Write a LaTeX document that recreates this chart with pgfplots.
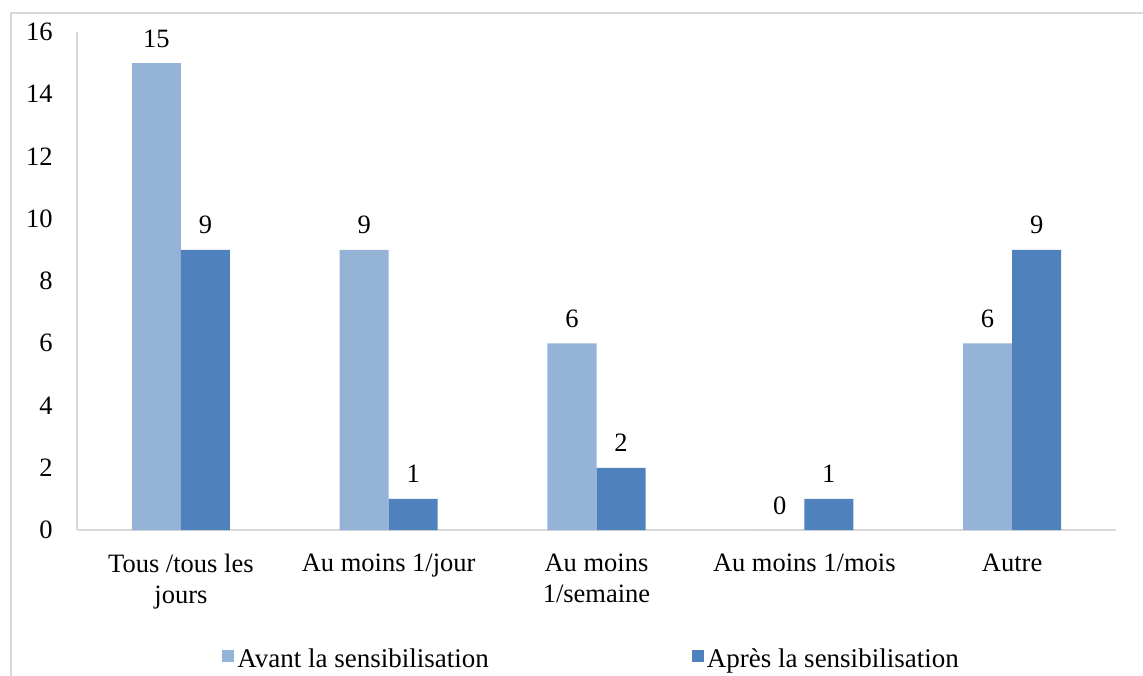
\documentclass[border=0pt]{standalone}
\usepackage{pgfplots}
\pgfplotsset{compat=1.18}
\usepackage{fontspec}
\setmainfont{Liberation Serif}
\definecolor{avant}{HTML}{95B3D7}
\definecolor{apres}{HTML}{4F81BD}
\definecolor{gridgray}{HTML}{D9D9D9}
\begin{document}
\fontsize{13.25}{15}\selectfont
\begin{tikzpicture}
\useasboundingbox (0,0) rectangle (571.5pt,337.5pt);
\draw[gridgray, line width=1pt] (5.5pt,-5pt) -- (5.5pt,331pt) -- (580pt,331pt);
\begin{axis}[
  at={(38.5pt,72.5pt)}, anchor=south west,
  scale only axis, width=519.5pt, height=249pt,
  xmin=-0.5, xmax=4.5, ymin=0, ymax=16,
  axis x line=bottom, axis y line=left,
  axis line style={-, draw=gridgray, line width=0.9pt},
  xtick={0,1,2,3,4},
  xticklabels={{Tous /tous les\\jours},{Au moins 1/jour},{Au moins\\1/semaine},{Au moins 1/mois},{Autre}},
  ytick={0,2,...,16},
  major tick length=0pt,
  tick style={draw=none},
  /pgf/number format/assume math mode=true,
  ticklabel style={font=\fontsize{13.25}{15.5}\selectfont, inner sep=0pt},
  xticklabel style={align=center, anchor=north, yshift=-12pt},
  yticklabel style={anchor=east, xshift=-12pt},
  ybar, bar width=0.236,
  nodes near coords,
  every node near coord/.append style={font=\fontsize{13.25}{15}\selectfont, anchor=base, inner sep=0pt, yshift=8pt},
  legend style={draw=none, at={(axis description cs:0.4957,-0.262)}, anchor=center,
    font=\fontsize{13.5}{15}\selectfont,
    nodes={inner xsep=1.5pt, inner ysep=0.5pt},
    /tikz/every even column/.append style={column sep=100pt}},
  legend columns=2,
  legend cell align=left,
  legend image code/.code={\fill[#1] (0pt,-1pt) rectangle (6pt,5pt);},
]
\addplot[fill=avant, draw=none, bar shift=-0.118] coordinates {(0,15) (1,9) (2,6) (3,0) (4,6)};
\addplot[fill=apres, draw=none, bar shift=0.118] coordinates {(0,9) (1,1) (2,2) (3,1) (4,9)};
\legend{Avant la sensibilisation, Après la sensibilisation}
\end{axis}
\end{tikzpicture}
\end{document}
